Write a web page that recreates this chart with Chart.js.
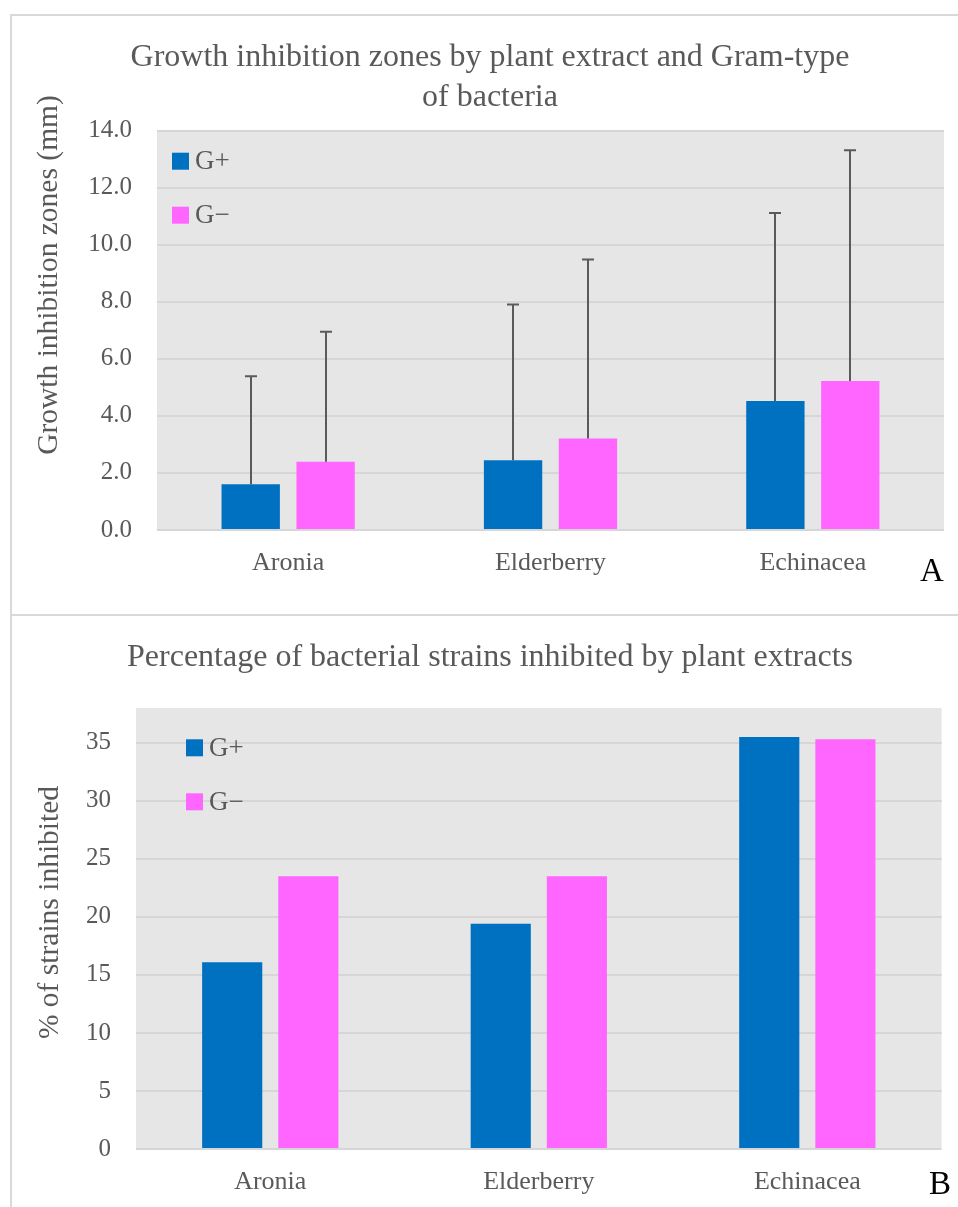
<!DOCTYPE html>
<html><head><meta charset="utf-8">
<script src="https://cdn.jsdelivr.net/npm/chart.js@4.4.1/dist/chart.umd.min.js"></script>
<style>
html,body{margin:0;padding:0;background:#fff;}
body{width:958px;height:1207px;position:relative;overflow:hidden;}
.ln{position:absolute;background:#d9d9d9;}
.wrap{position:absolute;}
</style></head><body>
<div class="ln" style="left:10px;top:14px;width:2px;height:1193px"></div>
<div class="ln" style="left:10px;top:14px;width:948px;height:2px"></div>
<div class="ln" style="left:10px;top:614px;width:948px;height:2px"></div>
<div class="wrap" style="left:12px;top:16px;width:946px;height:598px"><canvas id="cA"></canvas></div>
<div class="wrap" style="left:12px;top:616px;width:946px;height:591px"><canvas id="cB"></canvas></div>
<script>
// ---- data ----
const categories = ['Aronia', 'Elderberry', 'Echinacea'];
const seriesNames = ['G+', 'G\u2212'];
const zoneGPlus = [1.60, 2.44, 4.52];
const zoneGMinus = [2.39, 3.21, 5.22];
const zoneErrGPlus = [3.79, 5.46, 6.59];
const zoneErrGMinus = [4.56, 6.27, 8.09];
const pctGPlus = [16.1, 19.4, 35.5];
const pctGMinus = [23.5, 23.5, 35.3];
const zoneTicks = [0, 2, 4, 6, 8, 10, 12, 14];
const pctTicks = [0, 5, 10, 15, 20, 25, 30, 35];

const titleA = ['Growth inhibition zones by plant extract and Gram-type', 'of bacteria'];
const titleB = 'Percentage of bacterial strains inhibited by plant extracts';
const yTitleA = 'Growth inhibition zones (mm)';
const yTitleB = '% of strains inhibited';

// ---- style ----
const BLUE = '#0070C0', PINK = '#FF66FF', TXT = '#595959';
const FONT = '"Liberation Serif", "Times New Roman", serif';

const decor = {
  id: 'decor',
  beforeDraw(chart, args, o) {
    const { ctx, chartArea: a } = chart;
    ctx.save();
    ctx.fillStyle = o.plotBg;
    ctx.fillRect(a.left, a.top, a.right - a.left, a.bottom - a.top);
    ctx.restore();
  },
  afterDatasetsDraw(chart, args, o) {
    const ctx = chart.ctx, ys = chart.scales.y;
    chart.data.datasets.forEach((ds, di) => {
      if (!ds.errorPlus) return;
      const meta = chart.getDatasetMeta(di);
      meta.data.forEach((bar, i) => {
        const top = ys.getPixelForValue(ds.data[i] + ds.errorPlus[i]);
        const x = Math.round(bar.x);
        ctx.save();
        ctx.strokeStyle = o.errColor;
        ctx.lineWidth = 2;
        ctx.beginPath();
        ctx.moveTo(x, bar.y);
        ctx.lineTo(x, top);
        ctx.moveTo(x - 6, top);
        ctx.lineTo(x + 6, top);
        ctx.stroke();
        ctx.restore();
      });
    });
  },
  afterDraw(chart, args, o) {
    const ctx = chart.ctx, a = chart.chartArea;
    // legend inside plot
    chart.data.datasets.forEach((ds, i) => {
      const sx = a.left + o.legend.dx, sy = a.top + o.legend.dy + i * o.legend.gap;
      ctx.save();
      ctx.fillStyle = ds.backgroundColor;
      ctx.fillRect(sx, sy, 17, 17);
      ctx.fillStyle = TXT;
      ctx.font = '27px ' + FONT;
      ctx.textAlign = 'left';
      ctx.textBaseline = 'middle';
      ctx.fillText(ds.label, sx + 23, sy + 9.5);
      ctx.restore();
    });
    // y-axis title
    ctx.save();
    ctx.translate(o.yTitle.x, o.yTitle.y);
    ctx.rotate(-Math.PI / 2);
    ctx.fillStyle = TXT;
    ctx.font = '29.5px ' + FONT;
    ctx.textAlign = 'center';
    ctx.textBaseline = 'middle';
    ctx.fillText(o.yTitle.text, 0, 0);
    ctx.restore();
    // panel letter
    ctx.save();
    ctx.fillStyle = '#000';
    ctx.font = '33px ' + FONT;
    ctx.textAlign = 'center';
    ctx.textBaseline = 'middle';
    ctx.fillText(o.letter.text, o.letter.x, o.letter.y);
    ctx.restore();
  }
};

function makeChart(id, cfg) {
  return new Chart(document.getElementById(id), {
    type: 'bar',
    plugins: [decor],
    data: {
      labels: categories,
      datasets: [
        { label: seriesNames[0], data: cfg.s1, errorPlus: cfg.e1, backgroundColor: BLUE, borderWidth: 0,
          categoryPercentage: cfg.catPct, barPercentage: cfg.barPct },
        { label: seriesNames[1], data: cfg.s2, errorPlus: cfg.e2, backgroundColor: PINK, borderWidth: 0,
          categoryPercentage: cfg.catPct, barPercentage: cfg.barPct }
      ]
    },
    options: {
      responsive: true,
      maintainAspectRatio: false,
      animation: false,
      devicePixelRatio: 1,
      layout: { padding: cfg.pad },
      plugins: {
        legend: { display: false },
        tooltip: { enabled: false },
        title: {
          display: true, text: cfg.title, color: TXT,
          font: { family: FONT, size: 32, weight: 'normal', lineHeight: 39.5 / 32 },
          padding: cfg.titlePad
        },
        decor: {
          plotBg: '#E6E6E6', errColor: '#5A5A5A',
          legend: cfg.legend, yTitle: cfg.yTitle, letter: cfg.letter
        }
      },
      scales: {
        x: {
          grid: { display: false, drawTicks: false },
          border: { display: false },
          ticks: { color: TXT, font: { family: FONT, size: 26 }, padding: 18 },
          afterFit(s) { s.height = cfg.xH; }
        },
        y: {
          min: 0, max: cfg.yMax,
          grid: { color: '#D6D6D6', lineWidth: 2, drawTicks: false },
          border: { display: false },
          ticks: { color: TXT, font: { family: FONT, size: 25 }, padding: 25, callback: cfg.fmt },
          afterBuildTicks(s) { s.ticks = cfg.ticks.map(v => ({ value: v })); },
          afterFit(s) { s.width = cfg.yW; }
        }
      }
    }
  });
}

makeChart('cA', {
  s1: zoneGPlus, s2: zoneGMinus, e1: zoneErrGPlus, e2: zoneErrGMinus,
  catPct: 0.571, barPct: 0.779,
  pad: { left: 24, right: 14, top: 0, bottom: 0 },
  title: titleA, titlePad: { top: 22.25, bottom: 13.25 },
  xH: 84, yW: 121, yMax: 14, ticks: zoneTicks,
  fmt: v => Number(v).toFixed(1),
  legend: { dx: 15, dy: 22.2, gap: 54 },
  yTitle: { text: yTitleA, x: 37, y: 259 },
  letter: { text: 'A', x: 920, y: 556 }
});

makeChart('cB', {
  s1: pctGPlus, s2: pctGMinus, e1: null, e2: null,
  catPct: 0.567, barPct: 0.79,
  pad: { left: 26.4, right: 16.4, top: 0, bottom: 0 },
  title: titleB, titlePad: { top: 22.25, bottom: 30.25 },
  xH: 58, yW: 97.6, yMax: 38, ticks: pctTicks,
  fmt: v => String(v),
  legend: { dx: 50, dy: 31.3, gap: 54 },
  yTitle: { text: yTitleB, x: 38, y: 296.5 },
  letter: { text: 'B', x: 928, y: 569 }
});
</script>
</body></html>
